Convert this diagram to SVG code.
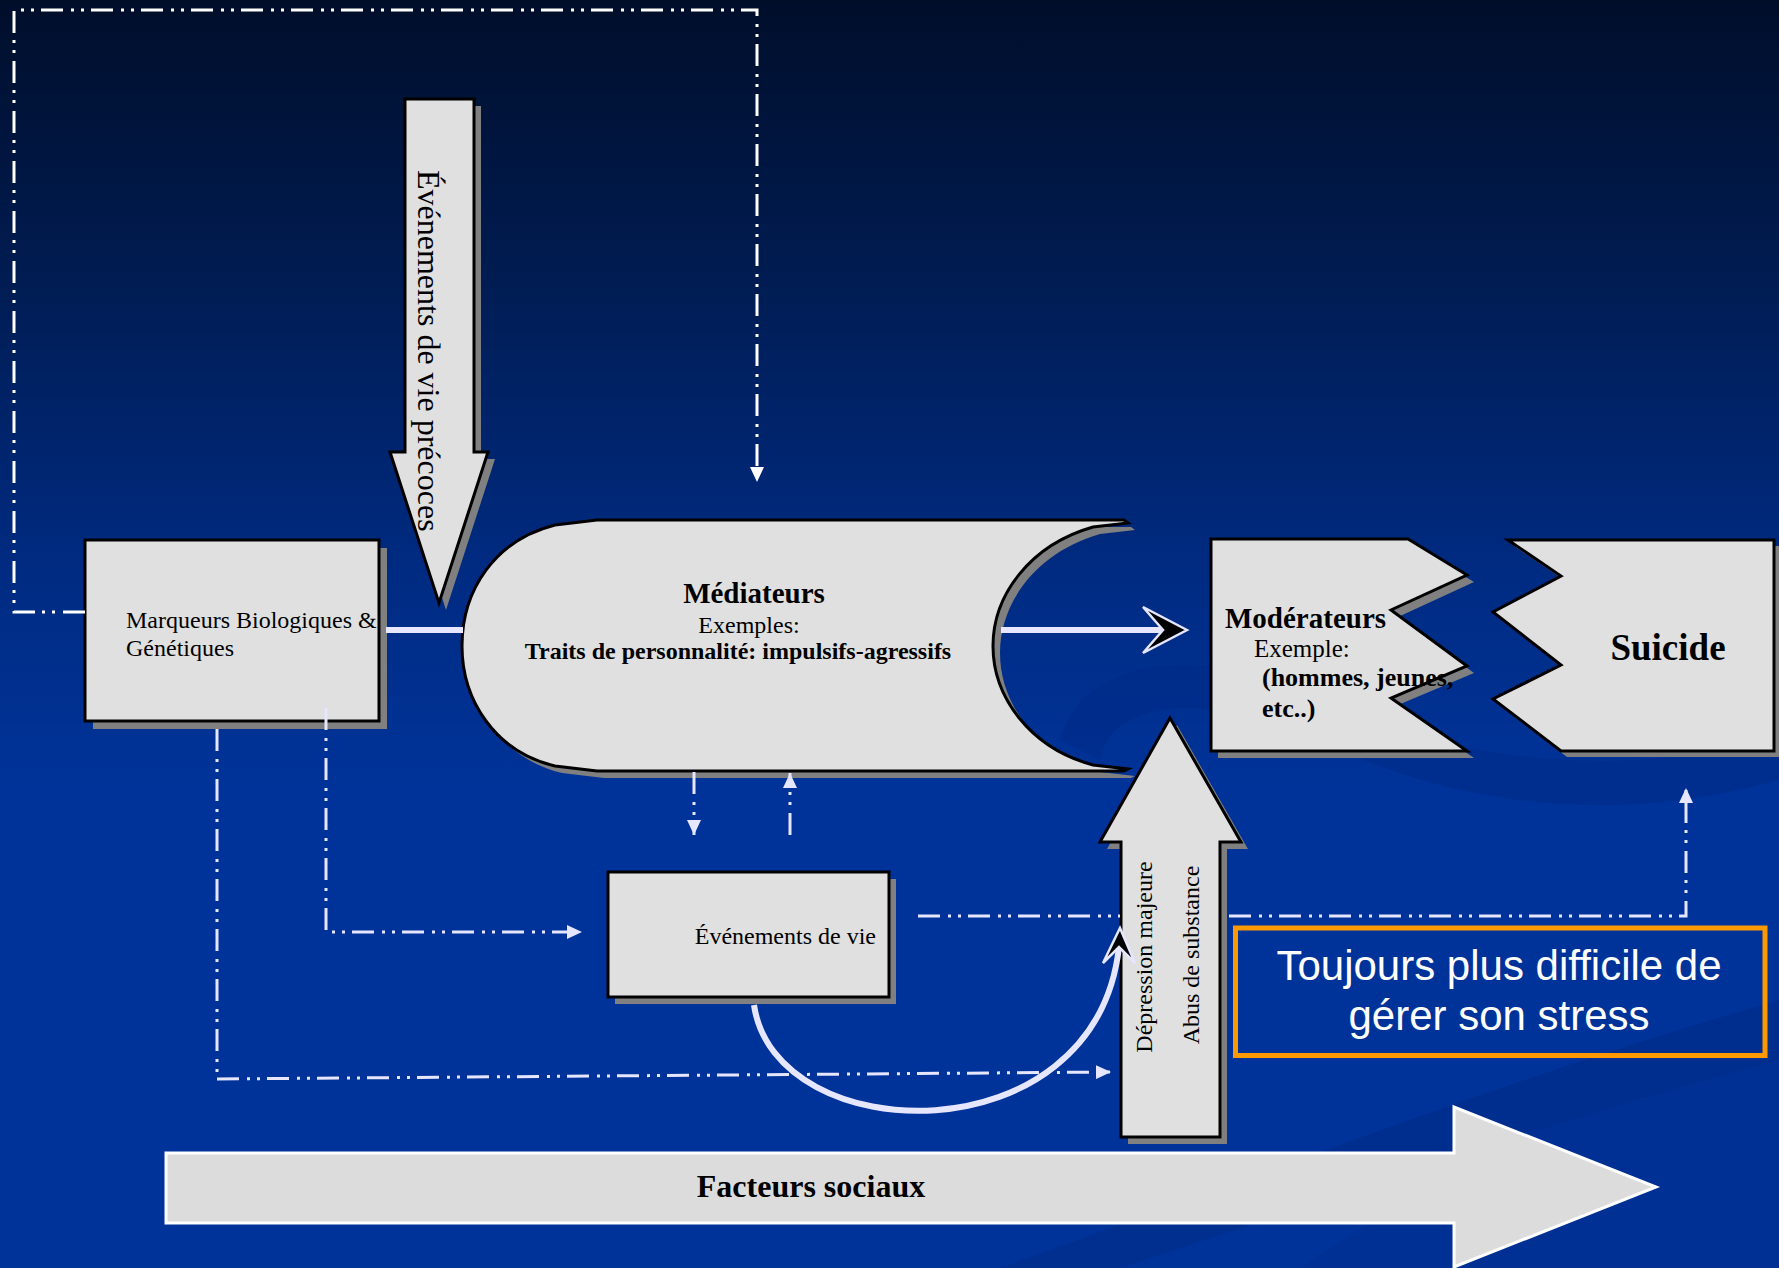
<svg xmlns="http://www.w3.org/2000/svg" width="1779" height="1268" viewBox="0 0 1779 1268">
<defs>
<linearGradient id="bg" x1="0" y1="0" x2="0" y2="1">
<stop offset="0" stop-color="#000e2a"/>
<stop offset="0.22" stop-color="#001c52"/>
<stop offset="0.45" stop-color="#002b82"/>
<stop offset="0.62" stop-color="#003399"/>
<stop offset="1" stop-color="#003399"/>
</linearGradient>
<marker id="triL" viewBox="0 0 15 14" refX="15" refY="7" markerWidth="15" markerHeight="14" markerUnits="userSpaceOnUse" orient="auto">
<path d="M0,0 L15,7 L0,14 Z" fill="#e6e6ff"/>
</marker>
<marker id="triW" viewBox="0 0 15 14" refX="15" refY="7" markerWidth="15" markerHeight="14" markerUnits="userSpaceOnUse" orient="auto">
<path d="M0,0 L15,7 L0,14 Z" fill="#ffffff"/>
</marker>
<style>
.shape{fill:#e0e0e0;stroke:#000;stroke-width:3;stroke-linejoin:miter}
.shadow{fill:#808080;stroke:none}
.serif{font-family:"Liberation Serif","Times New Roman",serif;fill:#000}
.b{font-weight:bold}
.dd{fill:none;stroke:#e6e6ff;stroke-width:3;stroke-dasharray:22 8 3 7 3 7}
.ddw{fill:none;stroke:#ffffff;stroke-width:3;stroke-dasharray:22 8 3 7 3 7}
.thick{fill:none;stroke:#e6e6ff;stroke-width:6}
.ahead{fill:#000;stroke:#e6e6ff;stroke-width:2.5;stroke-linejoin:miter}
</style>
</defs>

<rect x="0" y="0" width="1779" height="1268" fill="url(#bg)"/>
<g id="swirls" fill="#002a85" opacity="0.45">
<path d="M1060,740 C1080,660 1200,640 1330,700 C1450,760 1600,780 1779,740 L1779,780 C1600,830 1440,800 1320,740 C1210,690 1110,700 1100,760 Z"/>
<path d="M1000,1268 C1250,1180 1500,1080 1779,1000 L1779,1060 C1520,1130 1300,1210 1120,1268 Z"/>
<path d="M1300,1268 C1480,1150 1640,1060 1779,1020 L1779,1268 Z" opacity="0.6"/>
</g>

<g id="evenements-precoces">
<path class="shadow" transform="translate(7,7)" d="M405,99 L474,99 L474,452 L488,452 L439,603 L390,452 L405,452 Z"/>
<path class="shape" d="M405,99 L474,99 L474,452 L488,452 L439,603 L390,452 L405,452 Z"/>
<text class="serif" font-size="32" transform="translate(418,170) rotate(90)">Événements de vie précoces</text>
</g>

<g id="marqueurs">
<rect class="shadow" x="93" y="548" width="294" height="181"/>
<rect class="shape" x="85" y="540" width="294" height="181"/>
<text class="serif" font-size="24" x="126" y="628">Marqueurs Biologiques &amp;</text>
<text class="serif" font-size="24" x="126" y="656">Génétiques</text>
</g>

<g id="mediateurs">
<path class="shadow" transform="translate(7,7)" d="M555,525 L597,520 L1124,520 L1128,523 L1093,527 C1030,545 993,595 993,646 C993,697 1030,748 1093,765 L1128,769 L1124,771 L597,771 L555,766 C495,752 462,700 462,646 C462,590 495,540 555,525 Z"/>
<path class="shape" d="M555,525 L597,520 L1124,520 L1128,523 L1093,527 C1030,545 993,595 993,646 C993,697 1030,748 1093,765 L1128,769 L1124,771 L597,771 L555,766 C495,752 462,700 462,646 C462,590 495,540 555,525 Z"/>
<text class="serif b" font-size="29" x="754" y="603" text-anchor="middle">Médiateurs</text>
<text class="serif" font-size="24" x="749" y="633" text-anchor="middle">Exemples:</text>
<text class="serif b" font-size="24" x="738" y="659" text-anchor="middle">Traits de personnalité: impulsifs-agressifs</text>
</g>

<g id="moderateurs">
<path class="shadow" transform="translate(7,7)" d="M1211,539 L1408,539 L1467,575 L1391,610 L1467,666 L1391,698 L1467,751 L1211,751 Z"/>
<path class="shape" d="M1211,539 L1408,539 L1467,575 L1391,610 L1467,666 L1391,698 L1467,751 L1211,751 Z"/>
<text class="serif b" font-size="29" x="1225" y="628">Modérateurs</text>
<text class="serif" font-size="25" x="1254" y="657">Exemple:</text>
<text class="serif b" font-size="26" x="1262" y="686">(hommes, jeunes,</text>
<text class="serif b" font-size="26" x="1262" y="717">etc..)</text>
</g>

<g id="suicide">
<path class="shadow" transform="translate(6,6)" d="M1508,540 L1774,540 L1774,751 L1561,751 L1493,699 L1561,665 L1493,612 L1561,576 Z"/>
<path class="shape" d="M1508,540 L1774,540 L1774,751 L1561,751 L1493,699 L1561,665 L1493,612 L1561,576 Z"/>
<text class="serif b" font-size="37" x="1668" y="660" text-anchor="middle">Suicide</text>
</g>

<g id="evenements-vie">
<rect class="shadow" x="615" y="879" width="281" height="125"/>
<rect class="shape" x="608" y="872" width="281" height="125"/>
<text class="serif" font-size="24" x="876" y="944" text-anchor="end">Événements de vie</text>
</g>

<g id="depression">
<path class="shadow" transform="translate(7,7)" d="M1170,718 L1241,842 L1220,842 L1220,1137 L1121,1137 L1121,842 L1100,842 Z"/>
<path class="shape" d="M1170,718 L1241,842 L1220,842 L1220,1137 L1121,1137 L1121,842 L1100,842 Z"/>
<text class="serif" font-size="24" text-anchor="middle" transform="translate(1152,957) rotate(-90)">Dépression majeure</text>
<text class="serif" font-size="24" text-anchor="middle" transform="translate(1199,955) rotate(-90)">Abus de substance</text>
</g>

<g id="facteurs-sociaux">
<path d="M166,1153 L1454,1153 L1454,1107 L1656,1187 L1454,1267 L1454,1223 L166,1223 Z" fill="#dcdcdc" stroke="#ffffff" stroke-width="3"/>
<text class="serif b" font-size="32" x="811" y="1197" text-anchor="middle">Facteurs sociaux</text>
</g>

<g id="stress-box">
<rect x="1235.5" y="928" width="529.5" height="127.5" fill="none" stroke="#ff9900" stroke-width="5"/>
<text font-family="'Liberation Sans', Arial, sans-serif" font-size="42" fill="#ffffff" x="1499" y="980" text-anchor="middle">Toujours plus difficile de</text>
<text font-family="'Liberation Sans', Arial, sans-serif" font-size="42" fill="#ffffff" x="1499" y="1030" text-anchor="middle">gérer son stress</text>
</g>

<g id="connectors">
<path class="ddw" d="M85,612 L14,612 L14,10 L757,10 L757,482" marker-end="url(#triW)"/>
<path class="dd" d="M326,708 L326,932 L582,932" marker-end="url(#triL)"/>
<path class="dd" d="M217,729 L217,1079 L1111,1072" marker-end="url(#triL)"/>
<path class="dd" d="M694,772 L694,835" marker-end="url(#triL)"/>
<path class="dd" d="M790,835 L790,773" marker-end="url(#triL)"/>
<path class="dd" d="M918,916 L1120,916"/>
<path class="dd" d="M1229,916 L1686,916 L1686,788" marker-end="url(#triL)"/>
<path class="thick" d="M386,630 L463,630"/>
<path class="thick" d="M1001,630 L1165,630"/>
<path class="ahead" d="M1187,630 L1143,607 L1163,630 L1143,653 Z"/>
<path class="thick" stroke-width="5" d="M754,1005 C775,1150 1095,1160 1119,947"/>
<path class="ahead" d="M1120,928 L1135,963 L1119,947 L1103,963 Z"/>
</g>
</svg>
